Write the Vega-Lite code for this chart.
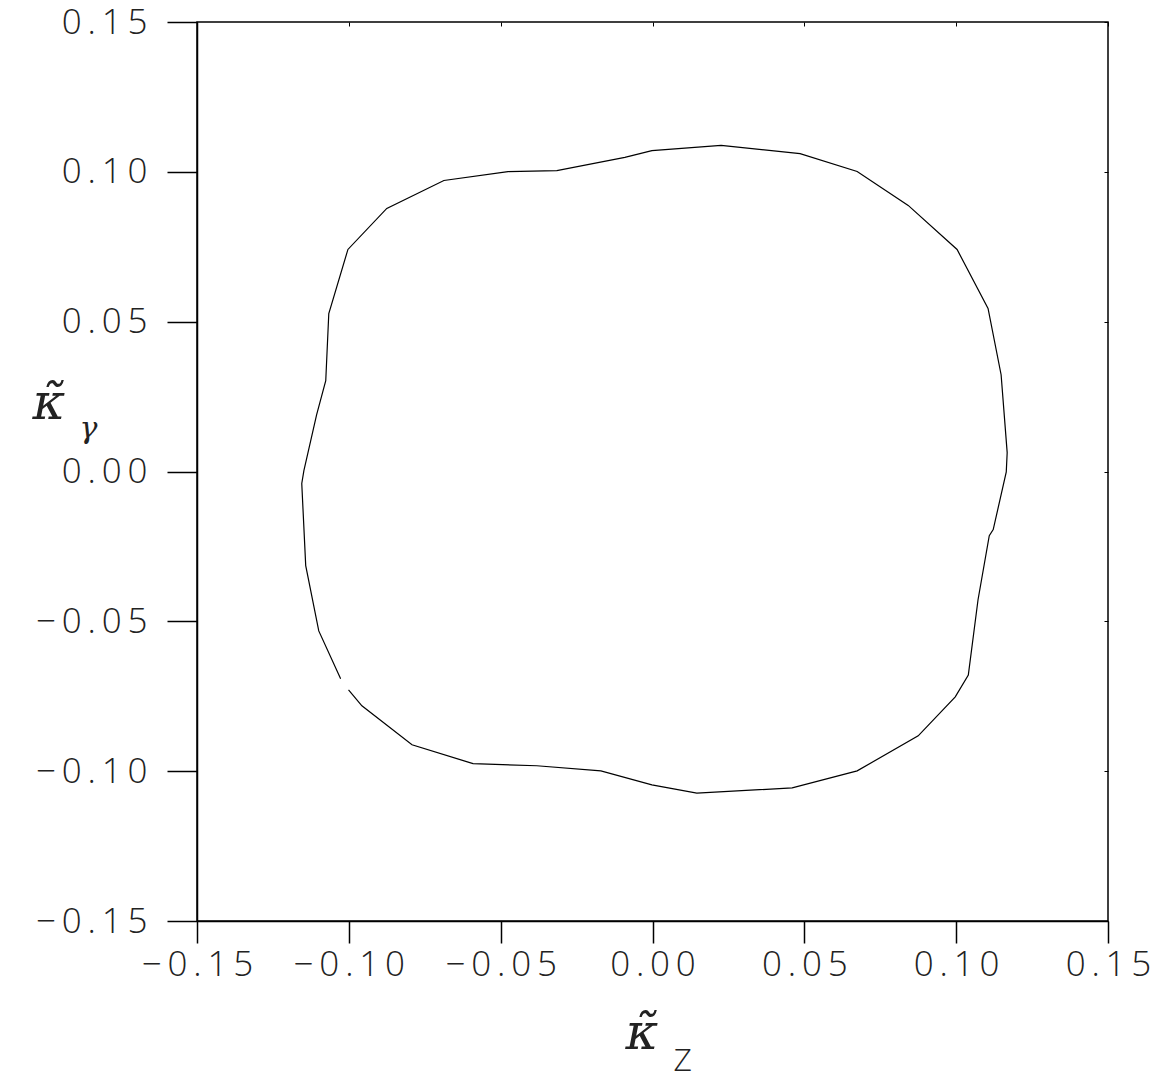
{
  "$schema": "https://vega.github.io/schema/vega-lite/v6.json",
  "autosize": "none",
  "width": 911,
  "height": 899,
  "padding": {"left": 197, "top": 22, "right": 49, "bottom": 157},
  "background": "white",
  "config": {
    "view": {"stroke": "black", "strokeWidth": 1.5},
    "axis": {
      "domainColor": "black", "domainWidth": 1.5,
      "tickColor": "black", "tickWidth": 1.5,
      "grid": false,
      "labelFont": "Open Sans", "labelFontWeight": 300, "labelFontSize": 35, "labelColor": "#222",
      "titleFont": "DejaVu Serif", "titleFontStyle": "italic", "titleFontWeight": "normal", "titleFontSize": 50, "titleColor": "#222"
    }
  },
  "data": {"values": [
    {"i": 1, "kz": -0.1027, "kg": -0.0692},
    {"i": 2, "kz": -0.1099, "kg": -0.0532},
    {"i": 3, "kz": -0.1142, "kg": -0.0314},
    {"i": 4, "kz": -0.1155, "kg": -0.0040},
    {"i": 5, "kz": -0.1148, "kg": 0.0003},
    {"i": 6, "kz": -0.1106, "kg": 0.0190},
    {"i": 7, "kz": -0.1076, "kg": 0.0303},
    {"i": 8, "kz": -0.1066, "kg": 0.0527},
    {"i": 9, "kz": -0.1003, "kg": 0.0741},
    {"i": 10, "kz": -0.0875, "kg": 0.0878},
    {"i": 11, "kz": -0.0687, "kg": 0.0971},
    {"i": 12, "kz": -0.0476, "kg": 0.1001},
    {"i": 13, "kz": -0.0315, "kg": 0.1004},
    {"i": 14, "kz": -0.0091, "kg": 0.1048},
    {"i": 15, "kz": -0.0002, "kg": 0.1071},
    {"i": 16, "kz": 0.0226, "kg": 0.1088},
    {"i": 17, "kz": 0.0486, "kg": 0.1061},
    {"i": 18, "kz": 0.0674, "kg": 0.1001},
    {"i": 19, "kz": 0.0842, "kg": 0.0888},
    {"i": 20, "kz": 0.1003, "kg": 0.0741},
    {"i": 21, "kz": 0.1105, "kg": 0.0544},
    {"i": 22, "kz": 0.1148, "kg": 0.0323},
    {"i": 23, "kz": 0.1168, "kg": 0.0063},
    {"i": 24, "kz": 0.1165, "kg": -0.0001},
    {"i": 25, "kz": 0.1122, "kg": -0.0194},
    {"i": 26, "kz": 0.1109, "kg": -0.0214},
    {"i": 27, "kz": 0.1072, "kg": -0.0428},
    {"i": 28, "kz": 0.1040, "kg": -0.0679},
    {"i": 29, "kz": 0.0997, "kg": -0.0752},
    {"i": 30, "kz": 0.0875, "kg": -0.0882},
    {"i": 31, "kz": 0.0674, "kg": -0.0999},
    {"i": 32, "kz": 0.0460, "kg": -0.1056},
    {"i": 33, "kz": 0.0146, "kg": -0.1073},
    {"i": 34, "kz": -0.0002, "kg": -0.1046},
    {"i": 35, "kz": -0.0170, "kg": -0.0999},
    {"i": 36, "kz": -0.0381, "kg": -0.0982},
    {"i": 37, "kz": -0.0591, "kg": -0.0975},
    {"i": 38, "kz": -0.0792, "kg": -0.0912},
    {"i": 39, "kz": -0.0957, "kg": -0.0782},
    {"i": 40, "kz": -0.1001, "kg": -0.0729}
  ]},
  "layer": [
    {
      "mark": {"type": "line", "color": "black", "strokeWidth": 1.2},
      "encoding": {
        "order": {"field": "i", "type": "quantitative"},
        "x": {
          "field": "kz", "type": "quantitative",
          "scale": {"domain": [-0.15, 0.15], "nice": false, "zero": false},
          "axis": {
            "orient": "bottom",
            "values": [-0.15, -0.1, -0.05, 0, 0.05, 0.1, 0.15],
            "format": ".2f",
            "labelExpr": "join(split(datum.label, ''), '\u2009')",
            "tickSize": 22, "labelPadding": 4, "labelFlush": false,
            "title": "κ̃",
            "titleAnchor": "start", "titleAlign": "left", "titleBaseline": "alphabetic",
            "titleX": 428, "titleY": 127
          }
        },
        "y": {
          "field": "kg", "type": "quantitative",
          "scale": {"domain": [-0.15, 0.15], "nice": false, "zero": false},
          "axis": {
            "orient": "left",
            "values": [-0.15, -0.1, -0.05, 0, 0.05, 0.1, 0.15],
            "format": ".2f",
            "labelExpr": "join(split(datum.label, ''), '\u2009')",
            "tickSize": 30, "labelPadding": 20, "labelFlush": false,
            "title": "κ̃",
            "titleAngle": 0, "titleAnchor": "start", "titleAlign": "left", "titleBaseline": "alphabetic",
            "titleX": -165, "titleY": 396
          }
        }
      }
    },
    {
      "mark": {"type": "line", "color": "black", "strokeWidth": 1.2, "strokeOpacity": 0},
      "encoding": {
        "order": {"field": "i", "type": "quantitative"},
        "x": {
          "field": "kz", "type": "quantitative",
          "scale": {"domain": [-0.15, 0.15], "nice": false, "zero": false},
          "axis": {
            "orient": "top",
            "values": [-0.15, -0.1, -0.05, 0, 0.05, 0.1, 0.15],
            "labels": false, "domain": false,
            "tickSize": -4, "tickWidth": 1,
            "title": "Z",
            "titleFont": "Open Sans", "titleFontWeight": 300, "titleFontStyle": "normal", "titleFontSize": 32,
            "titleAnchor": "start", "titleAlign": "left", "titleBaseline": "alphabetic",
            "titleX": 476, "titleY": 1048
          }
        },
        "y": {
          "field": "kg", "type": "quantitative",
          "scale": {"domain": [-0.15, 0.15], "nice": false, "zero": false},
          "axis": {
            "orient": "right",
            "values": [-0.15, -0.1, -0.05, 0, 0.05, 0.1, 0.15],
            "labels": false, "domain": false,
            "tickSize": -4, "tickWidth": 1,
            "title": "γ",
            "titleFontSize": 30,
            "titleAngle": 0, "titleAnchor": "start", "titleAlign": "left", "titleBaseline": "alphabetic",
            "titleX": -1029, "titleY": 415
          }
        }
      }
    }
  ],
  "resolve": {"axis": {"x": "independent", "y": "independent"}}
}
